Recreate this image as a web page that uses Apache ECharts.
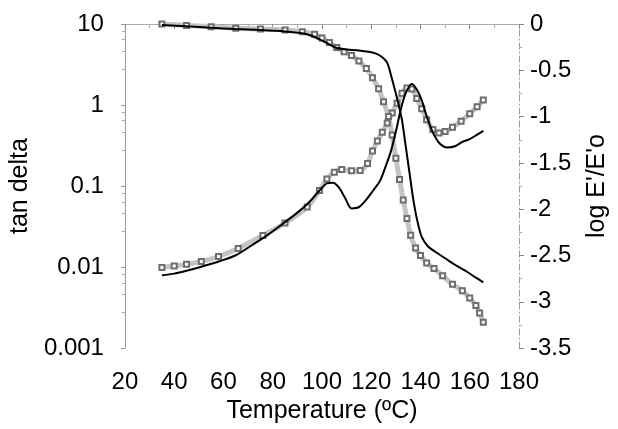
<!DOCTYPE html>
<html>
<head>
<meta charset="utf-8">
<script src="https://cdn.jsdelivr.net/npm/echarts@6/dist/echarts.min.js"></script>
<style>
html, body { margin: 0; padding: 0; background: #fff; }
#chart { width: 618px; height: 429px; }
</style>
</head>
<body>
<div id="chart"></div>
<script>
// tan delta, sample A (solid line)
var tempTanA = [35, 40, 45, 51, 58, 65, 72, 78, 84, 90, 95, 99, 102, 104.5, 107, 109.5, 112, 115, 118, 121, 123.5, 126, 128, 130, 132, 134, 136.5, 138.5, 140.5, 142.5, 145, 148, 151, 154, 157, 160, 163, 165.5];
var tanA = [0.0079, 0.0083, 0.009, 0.0101, 0.0117, 0.014, 0.019, 0.025, 0.034, 0.047, 0.064, 0.088, 0.108, 0.11, 0.095, 0.07, 0.053, 0.055, 0.068, 0.09, 0.115, 0.18, 0.27, 0.47, 0.88, 1.4, 1.82, 1.55, 1.15, 0.73, 0.46, 0.33, 0.3, 0.31, 0.35, 0.38, 0.43, 0.48];

// tan delta, sample B (open squares)
var tempTanB = [35, 40, 45, 51, 58, 66, 76, 85, 94, 99, 102, 105, 108, 112, 115.5, 118.5, 120.5, 122.5, 124.5, 126.5, 128.5, 130.5, 132.5, 134.5, 136.5, 138.5, 140.5, 142.5, 145, 147.5, 150, 153, 156.5, 160, 163, 165.5];
var tanB = [0.0099, 0.0103, 0.0108, 0.0117, 0.0135, 0.017, 0.0245, 0.035, 0.055, 0.088, 0.122, 0.148, 0.16, 0.155, 0.156, 0.19, 0.27, 0.36, 0.46, 0.6, 0.8, 1.05, 1.4, 1.62, 1.58, 1.2, 0.9, 0.66, 0.5, 0.45, 0.47, 0.53, 0.63, 0.78, 0.95, 1.15];

// log E'/E'o, sample A (solid line)
var tempModA = [35, 45, 55, 65, 75, 85, 92, 96, 100, 103, 106, 110, 115, 119, 122, 124.5, 126.5, 128, 129.5, 131, 132.5, 134, 135.5, 137, 138.5, 140.5, 143, 146, 150, 154, 158, 162, 165.5];
var modA = [-0.01, -0.025, -0.04, -0.055, -0.065, -0.08, -0.1, -0.13, -0.18, -0.22, -0.26, -0.275, -0.285, -0.3, -0.32, -0.36, -0.42, -0.55, -0.7, -0.86, -1.04, -1.32, -1.6, -1.88, -2.1, -2.3, -2.4, -2.46, -2.53, -2.6, -2.66, -2.73, -2.79];

// log E'/E'o, sample B (open squares)
var tempModB = [35, 45, 55, 65, 75, 85, 92, 97, 100, 103, 106, 109, 112, 115, 118, 120.5, 123, 125, 127, 128.5, 130, 131.5, 133, 134.5, 136, 138, 140, 142.5, 145.5, 149, 153, 157, 160, 162.5, 164, 165.5];
var modB = [0, -0.015, -0.03, -0.045, -0.055, -0.065, -0.085, -0.11, -0.15, -0.2, -0.255, -0.3, -0.34, -0.4, -0.48, -0.58, -0.7, -0.84, -1.0, -1.2, -1.45, -1.68, -1.9, -2.1, -2.28, -2.42, -2.5, -2.58, -2.64, -2.72, -2.81, -2.88, -2.96, -3.04, -3.12, -3.22];

var leftTicks = ['10', '1', '0.1', '0.01', '0.001'];

function pairs(xs, ys) {
	var out = [];
	for (var i = 0; i < xs.length; i++) {
		out.push([xs[i], ys[i]]);
	}
	return out;
}

var font = 'Liberation Sans, Arial, sans-serif';

function solidSeries(name, yIndex, xs, ys) {
	return {
		name : name,
		type : 'line',
		yAxisIndex : yIndex,
		smooth : 0.3,
		showSymbol : false,
		lineStyle : { color : '#000', width : 2 },
		data : pairs(xs, ys),
		z : 3
	};
}

function squareSeries(name, yIndex, xs, ys) {
	return {
		name : name,
		type : 'line',
		yAxisIndex : yIndex,
		smooth : 0.3,
		symbol : 'emptyRect',
		symbolSize : 5,
		itemStyle : { color : '#6e6e6e', borderWidth : 1 },
		lineStyle : { color : '#c4c4c4', width : 5 },
		data : pairs(xs, ys),
		z : 2
	};
}

var option = {
	animation : false,
	backgroundColor : '#fff',
	grid : {
		left : 119,
		right : 93,
		top : 24,
		bottom : 73
	},
	xAxis : [ {
		type : 'value',
		min : 20,
		max : 180,
		interval : 20,
		name : 'Temperature (ºC)',
		nameLocation : 'middle',
		nameGap : 48,
		nameTextStyle : { color : '#000', fontSize : 25, fontFamily : font },
		axisLine : { lineStyle : { color : '#aaa', type : 'dotted' } },
		axisTick : { show : true, length : 5, lineStyle : { color : '#888' } },
		minorTick : { show : true, splitNumber : 2, length : 4, lineStyle : { color : '#aaa' } },
		splitLine : { show : false },
		axisLabel : { color : '#000', fontSize : 24, fontFamily : font, margin : 22 }
	}, {
		type : 'value',
		position : 'top',
		min : 20,
		max : 180,
		axisLine : { show : true, lineStyle : { color : '#aaa' } },
		axisTick : { show : false },
		axisLabel : { show : false },
		splitLine : { show : false }
	} ],
	yAxis : [ {
		type : 'log',
		logBase : 10,
		min : 0.001,
		max : 10,
		name : 'tan delta',
		nameLocation : 'middle',
		nameGap : 75,
		nameTextStyle : { color : '#000', fontSize : 25, fontFamily : font },
		axisLine : { show : true, lineStyle : { color : '#999' } },
		axisTick : { show : true, length : 4, lineStyle : { color : '#999' } },
		minorTick : { show : true, splitNumber : 5, length : 3, lineStyle : { color : '#aaa' } },
		splitLine : { show : false },
		axisLabel : {
			color : '#000', fontSize : 24, fontFamily : font, margin : 21,
			formatter : function(v) {
				var i = Math.round(1 - Math.log10(v));
				return leftTicks[i] !== undefined ? leftTicks[i] : '';
			}
		}
	}, {
		type : 'value',
		position : 'right',
		min : -3.5,
		max : 0,
		interval : 0.5,
		name : "log E'/E'o",
		nameLocation : 'middle',
		nameGap : 66,
		nameRotate : 90,
		nameTextStyle : { color : '#000', fontSize : 25, fontFamily : font },
		axisLine : { show : true, lineStyle : { color : '#999', type : [6, 3, 1, 3] } },
		axisTick : { show : true, length : 5, lineStyle : { color : '#888' } },
		minorTick : { show : true, splitNumber : 2, length : 3, lineStyle : { color : '#aaa' } },
		splitLine : { show : false },
		axisLabel : { color : '#000', fontSize : 24, fontFamily : font, margin : 11 }
	} ],
	series : [
		squareSeries('tan delta B', 0, tempTanB, tanB),
		squareSeries("log E'/E'o B", 1, tempModB, modB),
		solidSeries('tan delta A', 0, tempTanA, tanA),
		solidSeries("log E'/E'o A", 1, tempModA, modA)
	]
};

var myChart = echarts.init(document.getElementById('chart'));
myChart.setOption(option, true);
</script>
</body>
</html>
